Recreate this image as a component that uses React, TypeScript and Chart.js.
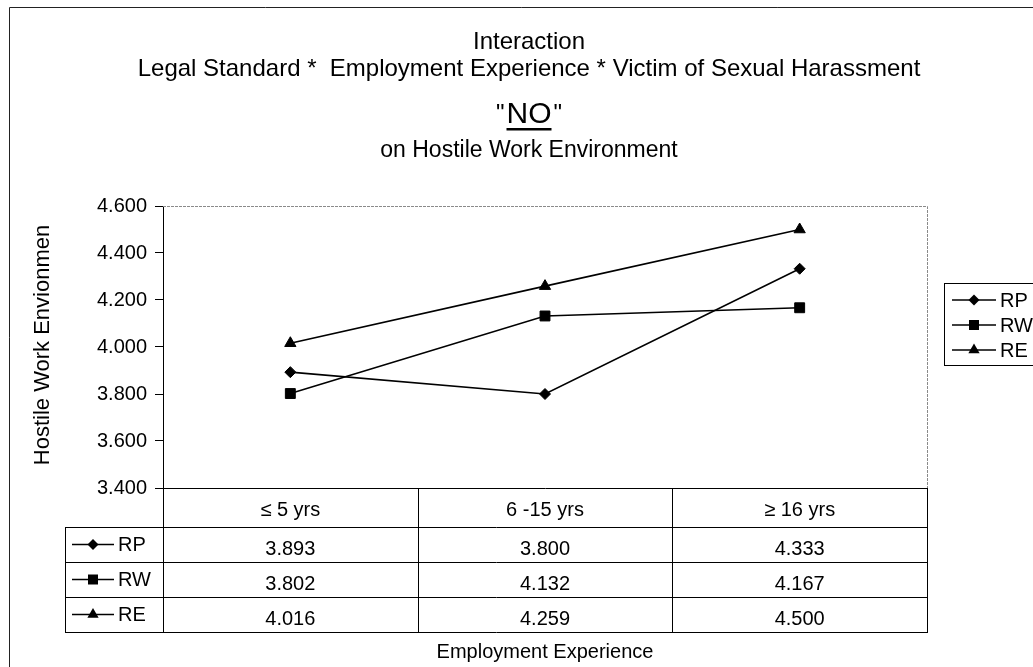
import React, { useEffect, useRef } from 'react';
import { Chart, registerables } from 'chart.js';

Chart.register(...registerables);

const categories = ['≤ 5 yrs', '6 -15 yrs', '≥ 16 yrs'];
const seriesNames = ['RP', 'RW', 'RE'];
const rpValues = [3.893, 3.8, 4.333];
const rwValues = [3.802, 4.132, 4.167];
const reValues = [4.016, 4.259, 4.5];
const yTickValues = [3.4, 3.6, 3.8, 4.0, 4.2, 4.4, 4.6];
const titleLines = [
  'Interaction',
  'Legal Standard *  Employment Experience * Victim of Sexual Harassment',
  '"NO"',
  'on Hostile Work Environment',
];
const yAxisTitle = 'Hostile Work Envionmen';
const xAxisTitle = 'Employment Experience';

const FONT = '"Liberation Sans", Arial, Helvetica, sans-serif';
const markerStyles = ['rectRot', 'rect', 'triangle'];
const markerRadii = [5.5, 7, 6.5];

function drawMarker(ctx: CanvasRenderingContext2D, style: string, x: number, y: number) {
  ctx.beginPath();
  if (style === 'rectRot') {
    const r = 5.5;
    ctx.moveTo(x - r, y);
    ctx.lineTo(x, y - r);
    ctx.lineTo(x + r, y);
    ctx.lineTo(x, y + r);
  } else if (style === 'rect') {
    const s = 5;
    ctx.rect(x - s, y - s, 2 * s, 2 * s);
  } else {
    const r = 6.5;
    ctx.moveTo(x, y - r);
    ctx.lineTo(x + r * Math.sin(Math.PI / 3), y + r / 2);
    ctx.lineTo(x - r * Math.sin(Math.PI / 3), y + r / 2);
  }
  ctx.closePath();
  ctx.fillStyle = '#000';
  ctx.fill();
}

function drawSeriesKey(ctx: CanvasRenderingContext2D, idx: number, x: number, y: number, lineLen: number, label: string, font: string) {
  ctx.strokeStyle = '#000';
  ctx.lineWidth = 1.3;
  ctx.beginPath();
  ctx.moveTo(x, y);
  ctx.lineTo(x + lineLen, y);
  ctx.stroke();
  drawMarker(ctx, markerStyles[idx], x + lineLen / 2, y);
  ctx.font = font;
  ctx.fillStyle = '#000';
  ctx.textAlign = 'left';
  ctx.textBaseline = 'middle';
  ctx.fillText(label, x + lineLen + 4, y + 1);
}

const decorPlugin = {
  id: 'decor',
  beforeDraw(chart: any) {
    const ctx = chart.ctx;
    ctx.save();
    ctx.fillStyle = '#fff';
    ctx.fillRect(0, 0, chart.width, chart.height);
    ctx.restore();
  },
  beforeDatasetsDraw(chart: any) {
    const { ctx, chartArea } = chart;
    const { left, top, right, bottom } = chartArea;
    ctx.save();
    ctx.strokeStyle = '#8a8a8a';
    ctx.lineWidth = 1;
    ctx.setLineDash([3, 1]);
    ctx.beginPath();
    ctx.moveTo(left, top + 0.5);
    ctx.lineTo(right + 0.5, top + 0.5);
    ctx.lineTo(right + 0.5, bottom);
    ctx.stroke();
    ctx.restore();
  },
  afterDraw(chart: any) {
    const { ctx, chartArea } = chart;
    const { left, right, bottom } = chartArea;
    const xScale = chart.scales.x;
    ctx.save();

    // Titles
    const cx = 529;
    ctx.fillStyle = '#000';
    ctx.textAlign = 'center';
    ctx.textBaseline = 'alphabetic';
    ctx.font = `24px ${FONT}`;
    ctx.fillText(titleLines[0], cx, 49);
    ctx.fillText(titleLines[1], cx, 76);
    const quote = titleLines[2].slice(0, 1);
    const inner = titleLines[2].slice(1, -1);
    ctx.font = `24px ${FONT}`;
    const qw = ctx.measureText(quote).width;
    ctx.font = `30px ${FONT}`;
    const nw = ctx.measureText(inner).width;
    const x0 = cx - (qw * 2 + nw + 4) / 2;
    ctx.textAlign = 'left';
    ctx.font = `24px ${FONT}`;
    ctx.fillText(quote, x0, 121);
    ctx.fillText(quote, x0 + qw + nw + 4, 121);
    ctx.font = `30px ${FONT}`;
    ctx.fillText(inner, x0 + qw + 2, 123);
    ctx.fillRect(x0 + qw + 2, 128, nw, 2.5);
    ctx.textAlign = 'center';
    ctx.font = `23px ${FONT}`;
    ctx.fillText(titleLines[3], cx, 157);

    // Y axis title
    ctx.save();
    ctx.translate(43, (chartArea.top + bottom) / 2 - 2);
    ctx.rotate(-Math.PI / 2);
    ctx.font = `22px ${FONT}`;
    ctx.textAlign = 'center';
    ctx.textBaseline = 'middle';
    ctx.fillText(yAxisTitle, 0, 0);
    ctx.restore();

    // Data table
    const headerH = 39;
    const rowH = 35;
    const labelColW = 98;
    const nRows = chart.data.datasets.length;
    const tableBottom = bottom + headerH + rowH * nRows;
    const colW = (right - left) / categories.length;
    ctx.strokeStyle = '#000';
    ctx.lineWidth = 1;
    ctx.beginPath();
    for (let i = 0; i <= categories.length; i++) {
      const x = Math.round(left + colW * i) + 0.5;
      ctx.moveTo(x, bottom);
      ctx.lineTo(x, tableBottom);
    }
    ctx.moveTo(left - labelColW + 0.5, bottom + headerH);
    ctx.lineTo(left - labelColW + 0.5, tableBottom);
    for (let r = 0; r <= nRows; r++) {
      const y = Math.round(bottom + headerH + rowH * r) + 0.5;
      ctx.moveTo(left - labelColW, y);
      ctx.lineTo(right + 1, y);
    }
    ctx.stroke();

    ctx.fillStyle = '#000';
    ctx.textAlign = 'center';
    ctx.textBaseline = 'alphabetic';
    ctx.font = `20px ${FONT}`;
    categories.forEach((c, i) => {
      ctx.fillText(c, xScale.getPixelForValue(i), bottom + headerH - 11);
    });
    chart.data.datasets.forEach((ds: any, r: number) => {
      const rowBottom = bottom + headerH + rowH * (r + 1);
      ctx.font = `20px ${FONT}`;
      ctx.textAlign = 'center';
      ctx.textBaseline = 'alphabetic';
      ctx.fillStyle = '#000';
      ds.data.forEach((v: number, i: number) => {
        ctx.fillText(v.toFixed(3), xScale.getPixelForValue(i), rowBottom - 7);
      });
      drawSeriesKey(ctx, r, left - labelColW + 7, rowBottom - rowH / 2, 42, ds.label, `20px ${FONT}`);
    });

    // X axis title
    ctx.font = `20px ${FONT}`;
    ctx.textAlign = 'center';
    ctx.textBaseline = 'alphabetic';
    ctx.fillStyle = '#000';
    ctx.fillText(xAxisTitle, (left + right) / 2, 658);

    // Legend box
    ctx.strokeStyle = '#000';
    ctx.lineWidth = 1;
    ctx.strokeRect(944.5, 283.5, 120, 82);
    chart.data.datasets.forEach((ds: any, r: number) => {
      drawSeriesKey(ctx, r, 952, 300 + r * 25, 44, ds.label, `20px ${FONT}`);
    });

    // Outer border
    ctx.strokeStyle = '#222';
    ctx.lineWidth = 1;
    ctx.beginPath();
    ctx.moveTo(9.5, chart.height);
    ctx.lineTo(9.5, 7.5);
    ctx.lineTo(chart.width, 7.5);
    ctx.stroke();

    ctx.restore();
  },
};

export default function App() {
  const canvasRef = useRef<HTMLCanvasElement | null>(null);

  useEffect(() => {
    const canvas = canvasRef.current;
    if (!canvas) return;
    const seriesValues = [rpValues, rwValues, reValues];
    const chart = new Chart(canvas, {
      type: 'line',
      data: {
        labels: categories,
        datasets: seriesNames.map((name, i) => ({
          label: name,
          data: seriesValues[i],
          borderColor: '#000',
          backgroundColor: '#000',
          borderWidth: 1.6,
          pointStyle: markerStyles[i] as any,
          pointRadius: markerRadii[i],
          pointBackgroundColor: '#000',
          pointBorderColor: '#000',
          pointBorderWidth: 1,
          tension: 0,
          fill: false,
          clip: false as any,
        })),
      },
      options: {
        responsive: false,
        animation: false,
        devicePixelRatio: 1,
        layout: { padding: { left: 0, top: 206, right: 106, bottom: 179 } },
        plugins: {
          legend: { display: false },
          title: { display: false },
          tooltip: { enabled: false },
        },
        scales: {
          x: {
            type: 'category',
            offset: true,
            grid: { display: false },
            border: { display: true, color: '#000', width: 1 },
            ticks: { display: false },
            afterFit: (s: any) => {
              s.height = 0;
            },
          },
          y: {
            min: yTickValues[0],
            max: yTickValues[yTickValues.length - 1],
            afterBuildTicks: (s: any) => {
              s.ticks = yTickValues.map((v) => ({ value: v }));
            },
            ticks: {
              callback: (v: any) => Number(v).toFixed(3),
              font: { size: 20, family: FONT },
              color: '#000',
              padding: 8,
            },
            grid: { drawOnChartArea: false, drawTicks: true, tickLength: 8, color: '#000' },
            border: { display: true, color: '#000', width: 1 },
            afterFit: (s: any) => {
              s.width = 163;
            },
          },
        },
      },
      plugins: [decorPlugin],
    });
    return () => chart.destroy();
  }, []);

  return (
    <div style={{ position: 'absolute', left: 0, top: 0, width: 1033, height: 667, background: '#fff' }}>
      <canvas ref={canvasRef} width={1033} height={667} style={{ display: 'block' }} />
    </div>
  );
}
